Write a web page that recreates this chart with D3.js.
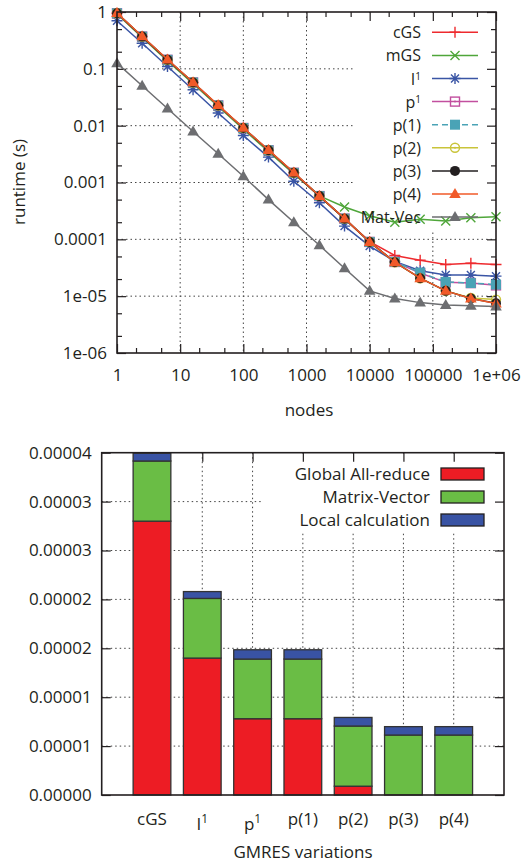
<!DOCTYPE html>
<html><head><meta charset="utf-8">
<script src="https://cdn.jsdelivr.net/npm/d3@7/dist/d3.min.js"></script>
<style>
body{margin:0;background:#fff}
svg{display:block}
text{font-family:"Open Sans",sans-serif;fill:#231f20}
</style>
</head><body>
<svg id="c" width="523" height="867"></svg>
<script>
// ---------------- DATA ----------------
const nodes = [1, 2.5, 6.3, 16, 40, 100, 250, 630, 1600, 4000, 10000, 25000, 63000, 160000, 400000, 1000000];
const cGS   = [0.95, 0.37, 0.144, 0.0575, 0.0227, 0.0091, 0.0037, 0.00148, 0.00058, 0.000231, 9.1e-5, 5.2e-5, 4.3e-5, 3.6e-5, 3.8e-5, 3.6e-5];
const mGS   = [0.92, 0.355, 0.138, 0.055, 0.0218, 0.0087, 0.0035, 0.00142, 0.00058, 0.00037, 0.00026, 0.0002, 0.000225, 0.00021, 0.00024, 0.00025];
const I1    = [0.70, 0.282, 0.110, 0.0428, 0.0167, 0.0067, 0.0028, 0.00105, 0.00044, 0.000171, 7.6e-5, 4.1e-5, 2.8e-5, 2.35e-5, 2.35e-5, 2.25e-5];
const P1    = [0.95, 0.369, 0.144, 0.0575, 0.0227, 0.0091, 0.0037, 0.00148, 0.000576, 0.000231, 9.0e-5, 4.0e-5, 2.55e-5, 1.75e-5, 1.7e-5, 1.55e-5];
const pOne  = [0.95, 0.369, 0.144, 0.0575, 0.0227, 0.0091, 0.0037, 0.00148, 0.000576, 0.000231, 9.0e-5, 4.0e-5, 2.6e-5, 1.78e-5, 1.7e-5, 1.6e-5];
const pTwo  = [0.95, 0.369, 0.144, 0.0575, 0.0227, 0.0091, 0.0037, 0.00148, 0.000576, 0.000231, 9.0e-5, 3.95e-5, 2.07e-5, 1.24e-5, 9.3e-6, 8.7e-6];
const pThree= [0.95, 0.369, 0.144, 0.0575, 0.0227, 0.0091, 0.0037, 0.00148, 0.000576, 0.000231, 9.0e-5, 3.95e-5, 2.07e-5, 1.24e-5, 9.1e-6, 7.5e-6];
const pFour = [0.96, 0.375, 0.146, 0.058, 0.023, 0.0092, 0.00375, 0.0015, 0.00058, 0.000233, 9.0e-5, 3.95e-5, 2.07e-5, 1.24e-5, 9.1e-6, 7.4e-6];
const matVec= [0.126, 0.0503, 0.0201, 0.0079, 0.0032, 0.00129, 0.0005, 0.0002, 7.85e-5, 3.1e-5, 1.24e-5, 9.1e-6, 7.7e-6, 7.0e-6, 6.8e-6, 6.6e-6];

const seriesNames = ["cGS", "mGS", "I^1", "p^1", "p(1)", "p(2)", "p(3)", "p(4)", "Mat-Vec"];
const seriesData  = [cGS, mGS, I1, P1, pOne, pTwo, pThree, pFour, matVec];

const xTickVals   = [1, 10, 100, 1000, 10000, 100000, 1000000];
const xTickLabels = ["1", "10", "100", "1000", "10000", "100000", "1e+06"];
const yTickVals   = [1, 0.1, 0.01, 0.001, 0.0001, 0.00001, 0.000001];
const yTickLabels = ["1", "0.1", "0.01", "0.001", "0.0001", "1e-05", "1e-06"];

const variants     = ["cGS", "I^1", "p^1", "p(1)", "p(2)", "p(3)", "p(4)"];
const allReduce    = [2.8e-5, 1.4e-5, 0.78e-5, 0.78e-5, 0.09e-5, 0, 0];
const matrixVector = [0.615e-5, 0.61e-5, 0.61e-5, 0.61e-5, 0.615e-5, 0.613e-5, 0.613e-5];
const localCalc    = [0.08e-5, 0.07e-5, 0.095e-5, 0.095e-5, 0.088e-5, 0.086e-5, 0.086e-5];
const stackNames   = ["Global All-reduce", "Matrix-Vector", "Local calculation"];
const barTickVals   = [0, 0.000005, 0.00001, 0.000015, 0.00002, 0.000025, 0.00003, 0.000035];
const barTickLabels = ["0.00000", "0.00001", "0.00001", "0.00002", "0.00002", "0.00003", "0.00003", "0.00004"];

// ---------------- STYLES ----------------
const seriesStyle = [
  {color:"#ee2a2e", marker:"plus"},
  {color:"#4fa63a", marker:"cross"},
  {color:"#3a55a5", marker:"star"},
  {color:"#c24f9f", marker:"sqOpen"},
  {color:"#4aa3b6", marker:"sqFill", dash:"6,4"},
  {color:"#c9c43a", marker:"circOpen"},
  {color:"#231f20", marker:"circFill"},
  {color:"#f15a29", marker:"tri"},
  {color:"#6d6e71", marker:"tri"}
];
const stackColors = ["#ed1c24", "#6abd45", "#3953a4"];
const INK = "#231f20";
const FS = 17;

const svg = d3.select("#c");

function addLabel(sel, str, supShift, supSize, supRaise) {
  const parts = str.split("^");
  if (parts.length === 1) { sel.text(str); return; }
  sel.attr("dy", supShift);
  sel.append("tspan").text(parts[0]);
  sel.append("tspan").attr("font-size", supSize).attr("dy", -supRaise).text(parts[1]);
}

function marker(g, type, cx, cy, color) {
  const sw = 1.4;
  switch (type) {
    case "plus":
      g.append("path").attr("d", `M${cx-5.5},${cy}H${cx+5.5}M${cx},${cy-5.5}V${cy+5.5}`).attr("stroke", color).attr("stroke-width", sw).attr("fill","none"); break;
    case "cross":
      g.append("path").attr("d", `M${cx-4.5},${cy-4.5}L${cx+4.5},${cy+4.5}M${cx-4.5},${cy+4.5}L${cx+4.5},${cy-4.5}`).attr("stroke", color).attr("stroke-width", sw).attr("fill","none"); break;
    case "star":
      g.append("path").attr("d", `M${cx-5.5},${cy}H${cx+5.5}M${cx},${cy-5.5}V${cy+5.5}M${cx-4},${cy-4}L${cx+4},${cy+4}M${cx-4},${cy+4}L${cx+4},${cy-4}`).attr("stroke", color).attr("stroke-width", sw).attr("fill","none"); break;
    case "sqOpen":
      g.append("rect").attr("x", cx-4.5).attr("y", cy-4.5).attr("width", 9).attr("height", 9).attr("fill","none").attr("stroke", color).attr("stroke-width", sw);
      g.append("circle").attr("cx", cx).attr("cy", cy).attr("r", 1).attr("fill", color); break;
    case "sqFill":
      g.append("rect").attr("x", cx-5).attr("y", cy-5).attr("width", 10).attr("height", 10).attr("fill", color); break;
    case "circOpen":
      g.append("circle").attr("cx", cx).attr("cy", cy).attr("r", 4.5).attr("fill","none").attr("stroke", color).attr("stroke-width", sw);
      g.append("circle").attr("cx", cx).attr("cy", cy).attr("r", 1).attr("fill", color); break;
    case "circFill":
      g.append("circle").attr("cx", cx).attr("cy", cy).attr("r", 5).attr("fill", color); break;
    case "tri":
      g.append("path").attr("d", `M${cx},${cy-6}L${cx+5.8},${cy+4}L${cx-5.8},${cy+4}Z`).attr("fill", color); break;
  }
}

function styleAxis(g) {
  g.select(".domain").remove();
  g.selectAll(".tick line").attr("stroke", INK).attr("stroke-width", 1.2);
  g.selectAll("text").attr("font-family", '"Open Sans",sans-serif').attr("font-size", FS).attr("fill", INK);
}

// ================= TOP CHART =================
const T = {l:117, r:496, t:12, b:353};
const x = d3.scaleLog().domain([1, 1e6]).range([T.l, T.r]);
const y = d3.scaleLog().domain([1e-6, 1]).range([T.b, T.t]);

const minorX = [], minorY = [];
for (let e = 0; e < 6; e++) { minorX.push(2*10**e, 5*10**e); }
for (let e = -6; e < 0; e++) { minorY.push(2*10**e, 5*10**e); }

const gTop = svg.append("g");
const grid = gTop.append("g").attr("stroke", "#444").attr("stroke-width", 1).attr("stroke-dasharray", "1.5,3");
xTickVals.slice(1, -1).forEach(v => grid.append("line").attr("x1", x(v)).attr("x2", x(v)).attr("y1", T.t).attr("y2", T.b));
yTickVals.slice(1, -1).forEach(v => grid.append("line").attr("x1", T.l).attr("x2", T.r).attr("y1", y(v)).attr("y2", y(v)));
gTop.append("rect").attr("x", 353).attr("y", T.t+1).attr("width", T.r-353-1).attr("height", 230-T.t).attr("fill", "#fff");

gTop.append("g").attr("transform", `translate(0,${T.b})`)
  .call(d3.axisBottom(x).tickValues(xTickVals).tickFormat((d,i)=>xTickLabels[i]).tickSizeInner(-9).tickSizeOuter(0).tickPadding(16)).call(styleAxis);
gTop.append("g").attr("transform", `translate(0,${T.b})`)
  .call(d3.axisBottom(x).tickValues(minorX).tickFormat("").tickSizeInner(-5).tickSizeOuter(0)).call(styleAxis);
gTop.append("g").attr("transform", `translate(0,${T.t})`)
  .call(d3.axisTop(x).tickValues(xTickVals).tickFormat("").tickSizeInner(-9).tickSizeOuter(0)).call(styleAxis);
gTop.append("g").attr("transform", `translate(0,${T.t})`)
  .call(d3.axisTop(x).tickValues(minorX).tickFormat("").tickSizeInner(-5).tickSizeOuter(0)).call(styleAxis);
gTop.append("g").attr("transform", `translate(${T.l},0)`)
  .call(d3.axisLeft(y).tickValues(yTickVals).tickFormat((d,i)=>yTickLabels[i]).tickSizeInner(-9).tickSizeOuter(0).tickPadding(10)).call(styleAxis);
gTop.append("g").attr("transform", `translate(${T.l},0)`)
  .call(d3.axisLeft(y).tickValues(minorY).tickFormat("").tickSizeInner(-5).tickSizeOuter(0)).call(styleAxis);
gTop.append("g").attr("transform", `translate(${T.r},0)`)
  .call(d3.axisRight(y).tickValues(yTickVals).tickFormat("").tickSizeInner(-9).tickSizeOuter(0)).call(styleAxis);
gTop.append("g").attr("transform", `translate(${T.r},0)`)
  .call(d3.axisRight(y).tickValues(minorY).tickFormat("").tickSizeInner(-5).tickSizeOuter(0)).call(styleAxis);

const lineGen = d3.line().x((d,i)=>x(nodes[i])).y(d=>y(d));
seriesData.forEach((data, si) => {
  const st = seriesStyle[si];
  const g = gTop.append("g");
  g.append("path").datum(data).attr("d", lineGen).attr("fill","none").attr("stroke", st.color)
    .attr("stroke-width", 1.5).attr("stroke-dasharray", st.dash || null);
  data.forEach((d,i) => marker(g, st.marker, x(nodes[i]), y(d), st.color));
});

gTop.append("rect").attr("x", T.l).attr("y", T.t).attr("width", T.r-T.l).attr("height", T.b-T.t)
  .attr("fill","none").attr("stroke", INK).attr("stroke-width", 1.6);

const keyTop = gTop.append("g");
seriesNames.forEach((n, i) => {
  const cy = 32.3 + i*23.1;
  const st = seriesStyle[i];
  const t = keyTop.append("text").attr("x", 421).attr("y", cy + 6).attr("text-anchor","end").attr("font-size", 16);
  addLabel(t, n, 0, 10, 5);
  keyTop.append("line").attr("x1", 432).attr("x2", 478).attr("y1", cy).attr("y2", cy)
    .attr("stroke", st.color).attr("stroke-width", 1.5).attr("stroke-dasharray", st.dash || null);
  marker(keyTop, st.marker, 455, cy, st.color);
});

gTop.append("text").attr("transform", `translate(25,182) rotate(-90)`).attr("text-anchor","middle").attr("font-size", FS).text("runtime (s)");
gTop.append("text").attr("x", 309).attr("y", 416).attr("text-anchor","middle").attr("font-size", FS).text("nodes");

// ================= BOTTOM CHART =================
const B = {l:101.7, r:504, t:452.7, b:795};
const xb = d3.scaleLinear().domain([0, variants.length + 1]).range([B.l, B.r]);
const yb = d3.scaleLinear().domain([0, 3.5e-5]).range([B.b, B.t]);
const gBot = svg.append("g");

const gridB = gBot.append("g").attr("stroke", "#444").attr("stroke-width", 1).attr("stroke-dasharray", "1.5,3");
variants.forEach((v,i) => gridB.append("line").attr("x1", xb(i+1)).attr("x2", xb(i+1)).attr("y1", B.t).attr("y2", B.b));
barTickVals.slice(1, -1).forEach(v => gridB.append("line").attr("x1", B.l).attr("x2", B.r).attr("y1", yb(v)).attr("y2", yb(v)));
gBot.append("rect").attr("x", 263).attr("y", B.t+1).attr("width", B.r-263-1).attr("height", 531-B.t).attr("fill", "#fff");

gBot.append("g").attr("transform", `translate(${B.l},0)`)
  .call(d3.axisLeft(yb).tickValues(barTickVals).tickFormat((d,i)=>barTickLabels[i]).tickSizeInner(-9).tickSizeOuter(0).tickPadding(10)).call(styleAxis);
gBot.append("g").attr("transform", `translate(${B.r},0)`)
  .call(d3.axisRight(yb).tickValues(barTickVals).tickFormat("").tickSizeInner(-9).tickSizeOuter(0)).call(styleAxis);
gBot.append("g").attr("transform", `translate(0,${B.t})`)
  .call(d3.axisTop(xb).tickValues(variants.map((v,i)=>i+1)).tickFormat("").tickSizeInner(-9).tickSizeOuter(0)).call(styleAxis);

const stacker = d3.stack().keys([0,1,2]).value((d,k)=>d[k]);
const rows = variants.map((v,i)=>[allReduce[i], matrixVector[i], localCalc[i]]);
const layers = stacker(rows);
const bw = (xb(1)-xb(0))*0.75;
layers.forEach((layer, k) => {
  gBot.append("g").selectAll("rect").data(layer).join("rect")
    .attr("x", (d,i)=>xb(i+1)-bw/2).attr("width", bw)
    .attr("y", d=>yb(d[1])).attr("height", d=>Math.max(0, yb(d[0])-yb(d[1])))
    .attr("fill", stackColors[k]).attr("stroke", "#333").attr("stroke-width", 1.3)
    .attr("display", d=> (d[1]-d[0]) > 0 ? null : "none");
});

gBot.append("rect").attr("x", B.l).attr("y", B.t).attr("width", B.r-B.l).attr("height", B.b-B.t)
  .attr("fill","none").attr("stroke", INK).attr("stroke-width", 1.6);

variants.forEach((v,i) => {
  const t = gBot.append("text").attr("x", xb(i+1)).attr("y", 825).attr("text-anchor","middle").attr("font-size", FS);
  addLabel(t, v, 5, 12, 7);
});
gBot.append("text").attr("x", 303).attr("y", 858).attr("text-anchor","middle").attr("font-size", FS).text("GMRES variations");

stackNames.forEach((n,i) => {
  const cy = 474 + i*23;
  gBot.append("text").attr("x", 430).attr("y", cy+6).attr("text-anchor","end").attr("font-size", FS).text(n);
  gBot.append("rect").attr("x", 441).attr("y", cy-6).attr("width", 43).attr("height", 12)
    .attr("fill", stackColors[i]).attr("stroke", INK).attr("stroke-width", 1.3);
});
</script>
</body></html>
